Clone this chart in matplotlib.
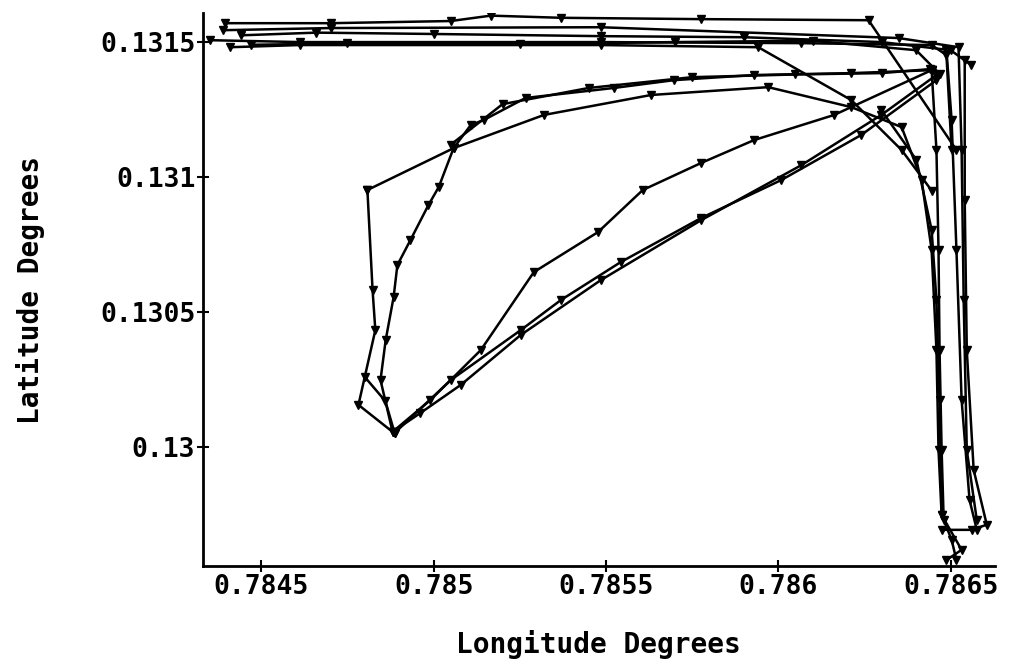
import matplotlib
matplotlib.use("Agg")
import matplotlib.pyplot as plt

# Posiciones (longitud, latitud), por pasada
top_lon_1 = [0.784395, 0.784701, 0.785050, 0.785166, 0.785369, 0.785776, 0.786262, 0.786517]
top_lat_1 = [0.131570, 0.131570, 0.131578, 0.131598, 0.131590, 0.131585, 0.131581, 0.131100]

top_lon_2 = [0.784389, 0.784701, 0.785485, 0.786349, 0.786523, 0.786532, 0.786538, 0.786547, 0.786576]
top_lat_2 = [0.131544, 0.131552, 0.131555, 0.131515, 0.131481, 0.131100, 0.130544, 0.129989, 0.129730]

top_lon_3 = [0.784352, 0.784613, 0.785485, 0.786067, 0.786445, 0.786488, 0.786503]
top_lat_3 = [0.131507, 0.131500, 0.131500, 0.131496, 0.131489, 0.131452, 0.131100]

top_lon_4 = [0.784410, 0.784613, 0.785485, 0.785942, 0.786212, 0.786358, 0.786445]
top_lat_4 = [0.131481, 0.131489, 0.131489, 0.131481, 0.131285, 0.131100, 0.130950]

top_lon_5 = [0.784440, 0.784660, 0.785000, 0.785485, 0.785900, 0.786300, 0.786500, 0.786560]
top_lat_5 = [0.131525, 0.131535, 0.131530, 0.131522, 0.131518, 0.131500, 0.131470, 0.131415]

top_lon_6 = [0.784470, 0.784750, 0.785250, 0.785700, 0.786100, 0.786400, 0.786470]
top_lat_6 = [0.131490, 0.131495, 0.131492, 0.131500, 0.131505, 0.131470, 0.131380]

arc_lon_1 = [0.786445, 0.786212, 0.785930, 0.785698, 0.785523, 0.785267, 0.785145, 0.785108,
             0.785058, 0.785015, 0.784985, 0.784933, 0.784895, 0.784884, 0.784861, 0.784846,
             0.784881, 0.784962, 0.785079, 0.785253, 0.785485, 0.785776, 0.786067, 0.786299, 0.786459]
arc_lat_1 = [0.131396, 0.131385, 0.131378, 0.131359, 0.131330, 0.131293, 0.131211, 0.131193,
             0.131107, 0.130963, 0.130896, 0.130767, 0.130674, 0.130555, 0.130396, 0.130248,
             0.130056, 0.130126, 0.130230, 0.130415, 0.130618, 0.130840, 0.131044, 0.131230, 0.131378]

arc_lon_2 = [0.784808, 0.785058, 0.785320, 0.785631, 0.785971, 0.786212, 0.786358, 0.786416,
             0.786445, 0.786459, 0.786465, 0.786474]
arc_lat_2 = [0.130952, 0.131107, 0.131230, 0.131304, 0.131333, 0.131259, 0.131185, 0.130989,
             0.130730, 0.130359, 0.129989, 0.129748]

arc_lon_3 = [0.785050, 0.785200, 0.785450, 0.785750, 0.786050, 0.786300, 0.786440]
arc_lat_3 = [0.131120, 0.131270, 0.131330, 0.131370, 0.131380, 0.131385, 0.131400]

loop_lon = [0.784808, 0.784823, 0.784831, 0.784782, 0.784881, 0.784887, 0.784860, 0.784800]
loop_lat = [0.130952, 0.130581, 0.130433, 0.130156, 0.130056, 0.130052, 0.130170, 0.130260]

diag_lon_1 = [0.784881, 0.784991, 0.785137, 0.785291, 0.785477, 0.785607, 0.785776, 0.785930,
              0.786162, 0.786445]
diag_lat_1 = [0.130056, 0.130174, 0.130359, 0.130648, 0.130796, 0.130952, 0.131052, 0.131137,
              0.131230, 0.131396]

diag_lon_2 = [0.784887, 0.785050, 0.785253, 0.785369, 0.785543, 0.785776, 0.786009, 0.786241,
              0.786459]
diag_lat_2 = [0.130052, 0.130248, 0.130433, 0.130544, 0.130685, 0.130848, 0.130989, 0.131156,
              0.131359]

desc_lon_1 = [0.786445, 0.786459, 0.786465, 0.786468, 0.786474, 0.786480, 0.786503, 0.786517]
desc_lat_1 = [0.131396, 0.131100, 0.130730, 0.130359, 0.129989, 0.129730, 0.129656, 0.129581]

desc_lon_2 = [0.786488, 0.786503, 0.786517, 0.786532, 0.786555, 0.786576]
desc_lat_2 = [0.131470, 0.131211, 0.130730, 0.130174, 0.129804, 0.129693]

desc_lon_3 = [0.786541, 0.786541, 0.786547, 0.786567, 0.786605, 0.786561, 0.786474]
desc_lat_3 = [0.131433, 0.130915, 0.130359, 0.129915, 0.129712, 0.129693, 0.129693]

desc_lon_4 = [0.786299, 0.786401, 0.786445, 0.786459, 0.786468, 0.786474, 0.786532, 0.786488]
desc_lat_4 = [0.131248, 0.131063, 0.130804, 0.130544, 0.130174, 0.129748, 0.129619, 0.129581]

pasadas = [
    (top_lon_1, top_lat_1), (top_lon_2, top_lat_2), (top_lon_3, top_lat_3),
    (top_lon_4, top_lat_4), (top_lon_5, top_lat_5), (top_lon_6, top_lat_6),
    (arc_lon_1, arc_lat_1), (arc_lon_2, arc_lat_2), (arc_lon_3, arc_lat_3),
    (loop_lon, loop_lat), (diag_lon_1, diag_lat_1), (diag_lon_2, diag_lat_2),
    (desc_lon_1, desc_lat_1), (desc_lon_2, desc_lat_2), (desc_lon_3, desc_lat_3),
    (desc_lon_4, desc_lat_4),
]

x_ticks = [0.7845, 0.785, 0.7855, 0.786, 0.7865]
x_labels = ["0.7845", "0.785", "0.7855", "0.786", "0.7865"]
y_ticks = [0.13, 0.1305, 0.131, 0.1315]
y_labels = ["0.13", "0.1305", "0.131", "0.1315"]

fig = plt.figure(figsize=(10.15, 6.6), dpi=100)
ax = fig.add_axes([0.2, 0.1424, 0.78, 0.8376])

for lon, lat in pasadas:
    ax.plot(lon, lat, color="black", linewidth=1.8, marker="v", markersize=5.5,
            markerfacecolor="black", markeredgecolor="black")

ax.set_xlim(0.784331, 0.786628)
ax.set_ylim(0.129559, 0.131607)

ax.spines["top"].set_visible(False)
ax.spines["right"].set_visible(False)
ax.spines["left"].set_linewidth(2)
ax.spines["bottom"].set_linewidth(2)

fuente = {"family": "DejaVu Sans Mono", "weight": "bold"}
ax.set_xticks(x_ticks)
ax.set_xticklabels(x_labels, fontdict=fuente, fontsize=19)
ax.set_yticks(y_ticks)
ax.set_yticklabels(y_labels, fontdict=fuente, fontsize=19)
ax.tick_params(direction="inout", length=9, width=1.5, pad=1)

ax.set_xlabel("Longitude Degrees", fontdict=fuente, fontsize=20, labelpad=22)
ax.set_ylabel("Latitude Degrees", fontdict=fuente, fontsize=20, labelpad=40)

fig.savefig("out.png", dpi=100)
